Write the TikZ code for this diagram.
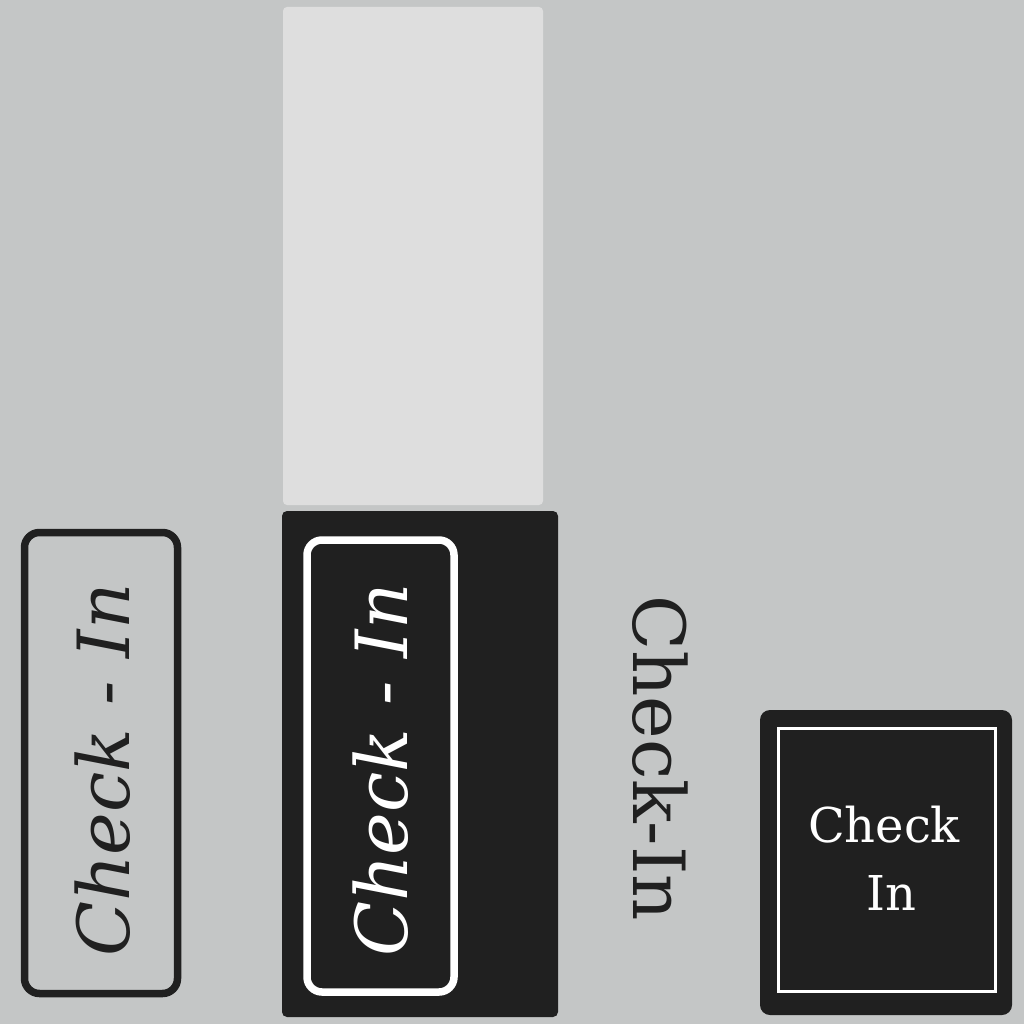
\documentclass[tikz,border=0pt]{standalone}
\usepackage{fontspec}
\setmainfont{DejaVu Serif}
\usepackage{xcolor}
\definecolor{wall}{RGB}{196,198,198}
\definecolor{panel}{RGB}{222,222,222}
\definecolor{ink}{RGB}{32,32,32}

\begin{document}
\begin{tikzpicture}[x=1pt,y=-1pt,
  sign/.style={rounded corners=15pt, line width=7.5pt},
  label/.style={font=\itshape\fontsize{72}{80}\selectfont, rotate=90}]
\fill[wall] (0,0) rectangle (1024,1024);
\useasboundingbox (0,0) rectangle (1024,1024);
\fill[panel, rounded corners=4pt] (283,7) rectangle (543,505);
\fill[ink, rounded corners=5pt] (282,511) rectangle (558,1017);

\draw[sign, ink] (24.5,532.5) rectangle (177.5,993.5);
\draw[sign, white] (307,540) rectangle (454,992);
\node[label, text=ink] (left) at (103,770) {Check - In};
\node[label, text=white] (mid) at (381,770) {Check - In};

\node[font=\fontsize{72}{80}\selectfont, rotate=-90, text=ink] (side) at (660,758) {Check-In};

\fill[ink, rounded corners=10pt] (760,710) rectangle (1012,1015);
\draw[white, line width=3pt] (778.5,728.5) rectangle (995.5,991.5);
\node[font=\fontsize{48}{68}\selectfont, text=white, align=center] (door) at (884,858) {Check\\\ In};
\end{tikzpicture}
\end{document}
